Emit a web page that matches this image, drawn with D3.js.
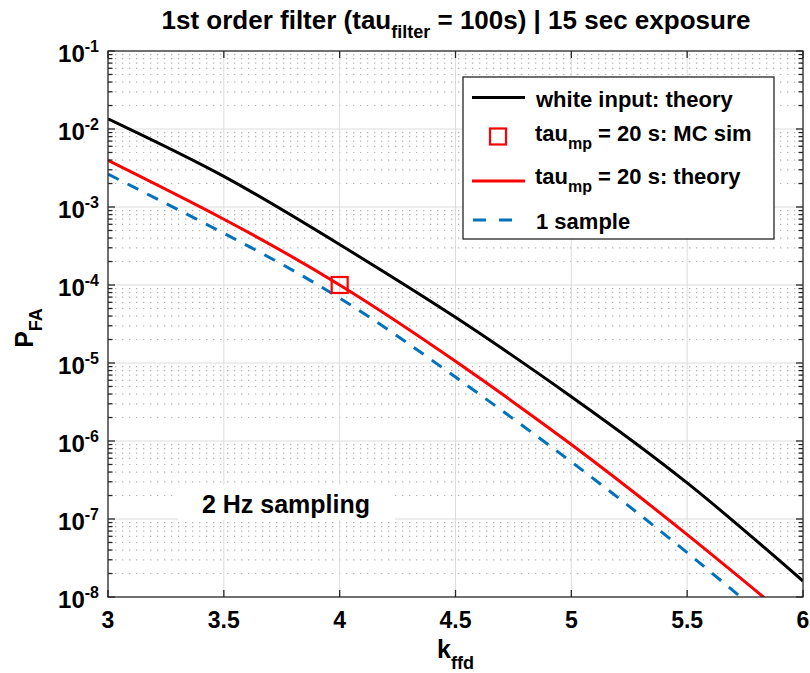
<!DOCTYPE html>
<html>
<head>
<meta charset="utf-8">
<script src="https://cdn.jsdelivr.net/npm/d3@7"></script>
<style>
  body { margin: 0; background: #fff; }
  text { font-family: "Liberation Sans", Arial, sans-serif; font-weight: bold; fill: #000; }
</style>
</head>
<body>
<div id="chart"></div>
<script>
// values
var kVals = [3, 3.5, 4, 4.5, 5, 5.5, 6];
var whiteTheory = [1.35e-2, 2.47e-3, 3.3e-4, 3.85e-5, 3.7e-6, 2.9e-7, 1.6e-8];
var mpTheory = [3.96e-3, 6.97e-4, 1.0e-4, 1.05e-5, 9.0e-7, 6.3e-8, 3.8e-9];
var oneSample = [2.64e-3, 4.6e-4, 6.8e-5, 6.6e-6, 5.4e-7, 3.7e-8, 2.1e-9];
var mcK = [4];
var mcP = [1e-4];
var xTicks = [3, 3.5, 4, 4.5, 5, 5.5, 6];
var yExps = [-8, -7, -6, -5, -4, -3, -2, -1];

var width = 810, height = 673;
var pLeft = 108, pRight = 803, pTop = 51, pBottom = 597;

var svg = d3.select("#chart").append("svg")
  .attr("width", width)
  .attr("height", height);

var x = d3.scaleLinear().domain([3, 6]).range([pLeft, pRight]);
var y = d3.scaleLog().domain([1e-8, 1e-1]).range([pBottom, pTop]);

svg.append("clipPath").attr("id", "clip")
  .append("rect")
  .attr("x", pLeft).attr("y", pTop)
  .attr("width", pRight - pLeft).attr("height", pBottom - pTop);

// minor grid (dotted)
var minorVals = [];
yExps.slice(0, -1).forEach(function(e) {
  for (var m = 2; m <= 9; m++) minorVals.push(m * Math.pow(10, e));
});
svg.append("g")
  .selectAll("line")
  .data(minorVals)
  .enter().append("line")
  .attr("x1", pLeft).attr("x2", pRight)
  .attr("y1", d => y(d)).attr("y2", d => y(d))
  .attr("stroke", "#b4b4b4")
  .attr("stroke-width", 1.2)
  .attr("stroke-dasharray", "1.3,5.7");

// major grid
var grid = svg.append("g").attr("stroke", "#dcdcdc").attr("stroke-width", 1);
grid.selectAll(".gy")
  .data(yExps.slice(1, -1))
  .enter().append("line")
  .attr("x1", pLeft).attr("x2", pRight)
  .attr("y1", d => y(Math.pow(10, d))).attr("y2", d => y(Math.pow(10, d)));
grid.selectAll(".gx")
  .data(xTicks.slice(1, -1))
  .enter().append("line")
  .attr("x1", d => x(d)).attr("x2", d => x(d))
  .attr("y1", pTop).attr("y2", pBottom);

// text label box with white background
svg.append("rect")
  .attr("x", 178).attr("y", 485)
  .attr("width", 217).attr("height", 35)
  .attr("fill", "#fff");
svg.append("text")
  .attr("x", 286).attr("y", 513)
  .attr("text-anchor", "middle")
  .attr("font-size", 25)
  .text("2 Hz sampling");

// curves
var line = d3.line()
  .x(d => x(d[0]))
  .y(d => y(d[1]))
  .curve(d3.curveNatural);

var plot = svg.append("g").attr("clip-path", "url(#clip)");

plot.append("path")
  .datum(d3.zip(kVals, oneSample))
  .attr("fill", "none")
  .attr("stroke", "#0072bd")
  .attr("stroke-width", 3)
  .attr("stroke-dasharray", "12,10")
  .attr("d", line);

plot.append("path")
  .datum(d3.zip(kVals, mpTheory))
  .attr("fill", "none")
  .attr("stroke", "#ff0000")
  .attr("stroke-width", 3)
  .attr("d", line);

plot.append("path")
  .datum(d3.zip(kVals, whiteTheory))
  .attr("fill", "none")
  .attr("stroke", "#000")
  .attr("stroke-width", 3)
  .attr("d", line);

plot.selectAll(".mc")
  .data(d3.zip(mcK, mcP))
  .enter().append("rect")
  .attr("x", d => x(d[0]) - 8)
  .attr("y", d => y(d[1]) - 8)
  .attr("width", 16).attr("height", 16)
  .attr("fill", "none")
  .attr("stroke", "#ff0000")
  .attr("stroke-width", 2.2);

// axes box and ticks
var axes = svg.append("g").attr("stroke", "#262626").attr("stroke-width", 1.3);
axes.append("rect")
  .attr("x", pLeft).attr("y", pTop)
  .attr("width", pRight - pLeft).attr("height", pBottom - pTop)
  .attr("fill", "none");

xTicks.forEach(function(t) {
  axes.append("line").attr("x1", x(t)).attr("x2", x(t)).attr("y1", pBottom).attr("y2", pBottom - 7);
  axes.append("line").attr("x1", x(t)).attr("x2", x(t)).attr("y1", pTop).attr("y2", pTop + 7);
});
yExps.forEach(function(e) {
  var yy = y(Math.pow(10, e));
  axes.append("line").attr("x1", pLeft).attr("x2", pLeft + 7).attr("y1", yy).attr("y2", yy);
  axes.append("line").attr("x1", pRight).attr("x2", pRight - 7).attr("y1", yy).attr("y2", yy);
});
minorVals.forEach(function(v) {
  axes.append("line").attr("x1", pLeft).attr("x2", pLeft + 4.5).attr("y1", y(v)).attr("y2", y(v));
  axes.append("line").attr("x1", pRight).attr("x2", pRight - 4.5).attr("y1", y(v)).attr("y2", y(v));
});

// tick labels
svg.append("g")
  .selectAll("text")
  .data(xTicks)
  .enter().append("text")
  .attr("x", d => x(d))
  .attr("y", 628)
  .attr("text-anchor", "middle")
  .attr("font-size", 23)
  .attr("fill", "#262626")
  .text(d => d);

var yl = svg.append("g")
  .selectAll("text")
  .data(yExps)
  .enter().append("text")
  .attr("x", 99)
  .attr("y", d => y(Math.pow(10, d)) + 11)
  .attr("text-anchor", "end")
  .attr("font-size", 24)
  .attr("fill", "#262626");
yl.append("tspan").text("10");
yl.append("tspan").attr("dy", -10).attr("font-size", 16).text(d => d);

// axis titles
var xl = svg.append("text")
  .attr("x", (pLeft + pRight) / 2)
  .attr("y", 658)
  .attr("text-anchor", "middle")
  .attr("font-size", 25);
xl.append("tspan").text("k");
xl.append("tspan").attr("dy", 11).attr("font-size", 18).text("ffd");

var ylab = svg.append("text")
  .attr("transform", "translate(33," + ((pTop + pBottom) / 2 + 4) + ") rotate(-90)")
  .attr("text-anchor", "middle")
  .attr("font-size", 25);
ylab.append("tspan").text("P");
ylab.append("tspan").attr("dy", 9).attr("font-size", 18).text("FA");

// title
var title = svg.append("text")
  .attr("x", 456)
  .attr("y", 29)
  .attr("text-anchor", "middle")
  .attr("font-size", 26);
title.append("tspan").text("1st order filter (tau");
title.append("tspan").attr("dy", 9).attr("font-size", 18).text("filter");
title.append("tspan").attr("dy", -9).text(" = 100s) | 15 sec exposure");

// legend
var legend = svg.append("g");
legend.append("rect")
  .attr("x", 463).attr("y", 77)
  .attr("width", 311).attr("height", 162)
  .attr("fill", "#fff")
  .attr("stroke", "#262626")
  .attr("stroke-width", 1.3);

legend.append("line")
  .attr("x1", 472).attr("x2", 525).attr("y1", 97.5).attr("y2", 97.5)
  .attr("stroke", "#000").attr("stroke-width", 3);
legend.append("rect")
  .attr("x", 490).attr("y", 128.5).attr("width", 16).attr("height", 16)
  .attr("fill", "none").attr("stroke", "#ff0000").attr("stroke-width", 2.2);
legend.append("line")
  .attr("x1", 472).attr("x2", 525).attr("y1", 181).attr("y2", 181)
  .attr("stroke", "#ff0000").attr("stroke-width", 3);
legend.append("line")
  .attr("x1", 473).attr("x2", 525).attr("y1", 220).attr("y2", 220)
  .attr("stroke", "#0072bd").attr("stroke-width", 3)
  .attr("stroke-dasharray", "13,13");

legend.append("text").attr("x", 536).attr("y", 107).attr("font-size", 22).text("white input: theory");

var l2 = legend.append("text").attr("x", 535).attr("y", 141).attr("font-size", 22);
l2.append("tspan").text("tau");
l2.append("tspan").attr("dy", 8).attr("font-size", 16).text("mp");
l2.append("tspan").attr("dy", -8).text(" = 20 s: MC sim");

var l3 = legend.append("text").attr("x", 535).attr("y", 184).attr("font-size", 22);
l3.append("tspan").text("tau");
l3.append("tspan").attr("dy", 8).attr("font-size", 16).text("mp");
l3.append("tspan").attr("dy", -8).text(" = 20 s: theory");

legend.append("text").attr("x", 536).attr("y", 229).attr("font-size", 22).text("1 sample");
</script>
</body>
</html>
